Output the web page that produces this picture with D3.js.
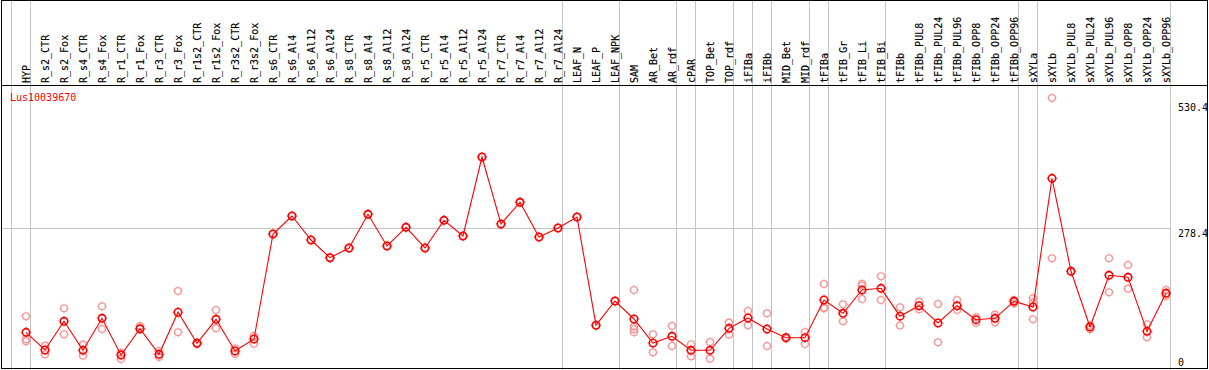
<!DOCTYPE html>
<html>
<head>
<meta charset="utf-8">
<script src="https://cdn.jsdelivr.net/npm/d3@7"></script>
<style>
  html, body { margin: 0; padding: 0; background: #fff; }
  svg { display: block; }
  text { font-family: "DejaVu Sans Mono", monospace; font-size: 10px; }
</style>
</head>
<body>
<script>
'use strict';

// ---- data ----
const gene = 'Lus10039670';

const samples = [
  'HYP',
  'R_s2_CTR', 'R_s2_Fox', 'R_s4_CTR', 'R_s4_Fox', 'R_r1_CTR', 'R_r1_Fox', 'R_r3_CTR', 'R_r3_Fox',
  'R_r1s2_CTR', 'R_r1s2_Fox', 'R_r3s2_CTR', 'R_r3s2_Fox',
  'R_s6_CTR', 'R_s6_Al4', 'R_s6_Al12', 'R_s6_Al24', 'R_s8_CTR', 'R_s8_Al4', 'R_s8_Al12', 'R_s8_Al24',
  'R_r5_CTR', 'R_r5_Al4', 'R_r5_Al12', 'R_r5_Al24', 'R_r7_CTR', 'R_r7_Al4', 'R_r7_Al12', 'R_r7_Al24',
  'LEAF_N', 'LEAF_P', 'LEAF_NPK',
  'SAM', 'AR_Bet', 'AR_rdf',
  'cPAR',
  'TOP_Bet', 'TOP_rdf',
  'iFIBa',
  'iFIBb',
  'MID_Bet', 'MID_rdf',
  'tFIBa',
  'tFIB_Gr', 'tFIB_Li', 'tFIB_Bi',
  'tFIBb', 'tFIBb_PUL8', 'tFIBb_PUL24', 'tFIBb_PUL96', 'tFIBb_OPP8', 'tFIBb_OPP24', 'tFIBb_OPP96',
  'sXYLa',
  'sXYLb', 'sXYLb_PUL8', 'sXYLb_PUL24', 'sXYLb_PUL96', 'sXYLb_OPP8', 'sXYLb_OPP24', 'sXYLb_OPP96'
];

// number of samples in each tissue group (grey separators between them)
const groupSizes = [1, 28, 3, 3, 1, 2, 1, 1, 2, 1, 3, 7, 1, 7];

// mean expression per sample
const means = [
  70.8,
  35.5, 92.8, 34.9, 98.8, 25.5, 78.0, 26.9, 110.8, 48.9, 96.8, 33.5, 57.5,
  267.0, 302.9, 255.0, 219.7, 239.1, 306.3, 243.1, 280.4,
  239.1, 294.3, 263.0, 420.6, 287.0, 330.3, 261.0, 279.0,
  300.9, 85.0, 133.3,
  97.4, 49.5, 62.9,
  34.9,
  34.9, 78.8,
  99.4,
  77.4,
  60.1, 60.1,
  135.3,
  108.8, 155.2, 158.6,
  103.0, 123.9, 89.4, 123.9, 96.0, 98.8, 132.7,
  121.3,
  378.1, 192.6, 81.4, 184.6, 180.6, 72.8, 148.7
];

// individual replicates per sample
const replicates = [
  [102.8, 56.9, 52.9],
  [44.1, 26.9], [118.7, 66.8], [46.1, 24.1], [122.7, 77.4], [30.1, 17.6], [83.4, 76.8],
  [33.5, 21.6], [153.3, 70.8], [48.0, 50.0], [115.3, 78.8], [38.9, 27.5], [63.5, 48.1],
  [267.0], [302.9], [255.0], [219.7], [239.1], [306.3], [243.1], [280.4],
  [239.1], [294.3], [263.0], [420.6], [287.0], [330.3], [261.0], [279.0],
  [300.9], [85.0], [133.3],
  [155.2, 82.0, 76.8, 70.8], [66.8, 30.9], [83.4, 43.5],
  [46.9, 22.9],
  [51.5, 18.2], [90.0, 66.1],
  [113.3, 84.8],
  [108.8, 43.5],
  [58.5, 61.5], [71.4, 47.5],
  [167.2, 118.7, 120.0],
  [126.7, 92.8], [167.6, 164.2, 137.3], [182.6, 135.3],
  [120.7, 84.4], [131.9, 116.7], [127.3, 50.9], [135.3, 115.3], [100.8, 90.0], [106.0, 90.8], [135.3, 128.7],
  [138.7, 96.8, 129.9],
  [538.4, 218.5], [192.6], [84.0, 76.8], [218.5, 150.7], [205.1, 157.8], [86.8, 60.9], [155.2, 143.3]
];

const yTicks = [0, 278.4, 530.4];
const gridValues = [278.4];

// ---- layout ----
const W = 1209, H = 370;
const headerH = 85;
const plotRight = 1170;

const svg = d3.select('body').append('svg')
  .attr('width', W).attr('height', H)
  .attr('viewBox', `0 0 ${W} ${H}`)
  .attr('shape-rendering', 'crispEdges');

svg.append('rect').attr('width', W).attr('height', H).attr('fill', '#ffffff');

const x = d3.scalePoint().domain(samples).range([26, 1166]);
const step = x.step();
const y = d3.scaleLinear().domain([0, 530.4]).range([367.8, 102]);

const grid = '#c4c4c4';

// vertical group separators
let pos = 0;
const sepX = [x(samples[0]) - step + 4.5];
groupSizes.forEach(n => {
  pos += n;
  sepX.push(x(samples[pos - 1]) + 4.5);
});
svg.append('g').selectAll('line').data(sepX).join('line')
  .attr('x1', d => d).attr('x2', d => d)
  .attr('y1', 0).attr('y2', H)
  .attr('stroke', grid).attr('stroke-width', 1);

// horizontal grid
svg.append('g').selectAll('line').data(gridValues).join('line')
  .attr('x1', 1).attr('x2', plotRight)
  .attr('y1', d => Math.round(y(d)) + 0.5).attr('y2', d => Math.round(y(d)) + 0.5)
  .attr('stroke', grid).attr('stroke-width', 1);

// frame and header rule
svg.append('rect')
  .attr('x', 1.5).attr('y', 0.5).attr('width', 1206).attr('height', 368)
  .attr('fill', 'none').attr('stroke', '#000').attr('stroke-width', 1);
svg.append('line')
  .attr('x1', 1).attr('x2', 1208).attr('y1', headerH + 0.5).attr('y2', headerH + 0.5)
  .attr('stroke', '#000').attr('stroke-width', 1);

// column labels (rotated); baseline nudged so the thin underscores land on a pixel
svg.append('g').selectAll('text').data(samples).join('text')
  .attr('transform', d => `translate(${x(d) + 4.4},${headerH - 2}) rotate(-90)`)
  .attr('fill', '#000')
  .attr('stroke', '#000').attr('stroke-width', 0.15)
  .text(d => d);

// right axis labels
svg.append('g').selectAll('text').data(yTicks).join('text')
  .attr('x', 1178)
  .attr('y', d => Math.min(y(d) + 8.5, 366))
  .attr('fill', '#000')
  .text(d => d);

// gene name
svg.append('text')
  .attr('x', 10).attr('y', 101)
  .attr('fill', '#ff0000')
  .text(gene);

// marker: ring with tiny stubs at the four compass points
function addMarker(parent, cx, cy, color, r, sw) {
  const g = parent.append('g').attr('transform', `translate(${cx},${cy})`);
  g.append('circle').attr('r', r)
    .attr('fill', 'none').attr('stroke', color).attr('stroke-width', sw)
    .attr('shape-rendering', 'auto');
  const r0 = r + sw / 2 - 0.2;
  [[0, -1], [0, 1], [-1, 0], [1, 0]].forEach(([dx, dy]) => {
    g.append('line')
      .attr('x1', dx * r0).attr('y1', dy * r0)
      .attr('x2', dx * (r0 + 0.9)).attr('y2', dy * (r0 + 0.9))
      .attr('stroke', color).attr('stroke-width', 0.9)
      .attr('shape-rendering', 'auto');
  });
}

const repLayer = svg.append('g');
samples.forEach((s, i) => {
  replicates[i].forEach(v => addMarker(repLayer, x(s), y(v), '#f29a9a', 3.4, 1.4));
});

// mean line
const line = d3.line()
  .x((d, i) => x(samples[i]))
  .y(d => y(d));
svg.append('path')
  .datum(means)
  .attr('d', line)
  .attr('fill', 'none')
  .attr('stroke', '#ff0000')
  .attr('stroke-width', 1.1)
  .attr('shape-rendering', 'auto');

const meanLayer = svg.append('g');
samples.forEach((s, i) => addMarker(meanLayer, x(s), y(means[i]), '#ff0000', 3.7, 1.6));
</script>
</body>
</html>
